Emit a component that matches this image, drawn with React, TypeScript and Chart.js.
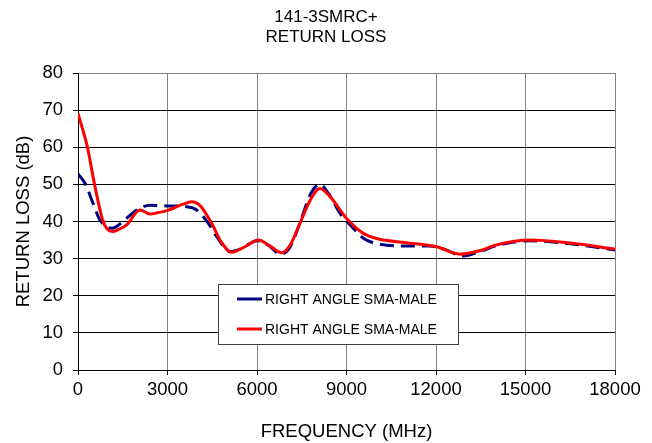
import React, { useEffect, useRef } from "react";
import { Chart, registerables } from "chart.js";

Chart.register(...registerables);

const TITLE_LINES = ["141-3SMRC+", "RETURN LOSS"];
const X_TITLE = "FREQUENCY (MHz)";
const Y_TITLE = "RETURN LOSS (dB)";
const SERIES_LABELS = ["RIGHT ANGLE SMA-MALE", "RIGHT ANGLE SMA-MALE"];

const blueFreq = [0, 235, 500, 737, 1130, 1630, 1967, 2413, 3000, 3640, 3980, 4370, 4650, 5100, 5500, 6000, 6400, 6770, 7100, 7500, 7800, 8110, 8400, 8800, 9120, 9565, 10120, 11240, 11800, 12300, 12900, 13500, 14030, 15150, 16500, 18000];
const blueLoss = [52.8, 50.3, 45, 40.4, 38.2, 40.9, 43.1, 44.4, 44.2, 44, 43.1, 39.5, 35.9, 31.9, 32.8, 34.8, 33.5, 31.2, 33, 41, 47.5, 50, 47.5, 42, 39.1, 35.5, 33.9, 33.4, 33.4, 32.5, 30.7, 32, 33.5, 34.8, 34, 32.3];

const redFreq = [0, 313, 547, 827, 1000, 1180, 1400, 1630, 2078, 2413, 2690, 3000, 3500, 3810, 4100, 4480, 4800, 5150, 5600, 6045, 6450, 6825, 7100, 7440, 7800, 8110, 8450, 9005, 9565, 10120, 11000, 12020, 12800, 13500, 14030, 15150, 16500, 18000];
const redLoss = [69.1, 60.1, 50.3, 40.4, 37.8, 37.3, 38.0, 39.1, 43.1, 42.0, 42.4, 43, 44.6, 45.3, 44.2, 39.5, 34.5, 31.7, 33.2, 35, 33.3, 31.6, 33.5, 39.5, 46, 48.9, 46.7, 40.8, 36.8, 35.2, 34.3, 33.2, 31.2, 32.2, 33.7, 35, 34.2, 32.6];

const X_MIN = 0, X_MAX = 18000, X_STEP = 3000;
const Y_MIN = 0, Y_MAX = 80, Y_STEP = 10;

const FONT = "'Liberation Sans', Arial, sans-serif";

const titlePlugin = {
  id: "twoLineTitle",
  afterDraw(chart: any) {
    const ctx = chart.ctx;
    ctx.save();
    ctx.fillStyle = "#000";
    ctx.font = `17px ${FONT}`;
    ctx.textAlign = "center";
    ctx.textBaseline = "middle";
    const ys = [17, 37.5];
    TITLE_LINES.forEach((t, i) => ctx.fillText(t, 326, ys[i]));
    ctx.restore();
  },
};

const legendPlugin = {
  id: "boxLegend",
  afterDatasetsDraw(chart: any) {
    const ctx = chart.ctx;
    const x0 = 218, y0 = 284, w = 240, h = 60;
    ctx.save();
    ctx.fillStyle = "#ffffff";
    ctx.fillRect(x0, y0, w, h);
    ctx.strokeStyle = "#404040";
    ctx.lineWidth = 1;
    ctx.strokeRect(x0 + 0.5, y0 + 0.5, w, h);
    const rows = [299, 329];
    chart.data.datasets.forEach((ds: any, i: number) => {
      const y = rows[i];
      ctx.strokeStyle = ds.borderColor;
      ctx.lineWidth = 3;
      ctx.setLineDash([]);
      ctx.beginPath();
      ctx.moveTo(237, y);
      ctx.lineTo(262, y);
      ctx.stroke();
      ctx.fillStyle = "#000";
      ctx.font = `14px ${FONT}`;
      ctx.textBaseline = "middle";
      ctx.textAlign = "left";
      ctx.fillText(ds.label, 265, y + 1);
    });
    ctx.restore();
  },
};

export default function App() {
  const ref = useRef<HTMLCanvasElement | null>(null);
  useEffect(() => {
    document.body.style.margin = "0";
    const blue = blueFreq.map((f, i) => ({ x: f, y: blueLoss[i] }));
    const red = redFreq.map((f, i) => ({ x: f, y: redLoss[i] }));
    const chart = new Chart(ref.current as HTMLCanvasElement, {
      type: "line",
      data: {
        datasets: [
          {
            label: SERIES_LABELS[0],
            data: blue,
            borderColor: "#000080",
            borderWidth: 3,
            borderDash: [14, 7],
            pointRadius: 0,
            cubicInterpolationMode: "monotone",
            fill: false,
            order: 1,
          },
          {
            label: SERIES_LABELS[1],
            data: red,
            borderColor: "#ff0000",
            borderWidth: 3,
            pointRadius: 0,
            cubicInterpolationMode: "monotone",
            fill: false,
            order: 0,
          },
        ],
      },
      options: {
        animation: false,
        responsive: false,
        layout: { padding: { left: 0, right: 37, top: 73, bottom: 0 } },
        plugins: {
          legend: { display: false },
          tooltip: { enabled: false },
          title: { display: false },
        },
        scales: {
          x: {
            type: "linear",
            min: X_MIN,
            max: X_MAX,
            ticks: {
              stepSize: X_STEP,
              color: "#000",
              padding: 4,
              maxRotation: 0,
              font: { family: FONT, size: 18.5 },
              callback: (v: any) => String(v),
            },
            grid: {
              color: "#808080",
              tickColor: "#000",
              tickLength: 5,
              lineWidth: 1,
            },
            border: { color: "#000", width: 1 },
            title: {
              display: true,
              text: X_TITLE,
              color: "#000",
              font: { family: FONT, size: 18.5 },
              padding: { top: 0, bottom: 0 },
            },
            afterFit(scale: any) {
              scale.height = 73;
            },
          },
          y: {
            type: "linear",
            min: Y_MIN,
            max: Y_MAX,
            ticks: {
              stepSize: Y_STEP,
              color: "#000",
              padding: 10,
              font: { family: FONT, size: 18.5 },
              callback: (v: any) => String(v),
            },
            grid: {
              color: (c: any) => (c.tick && c.tick.value === Y_MAX ? "#808080" : "#000"),
              tickColor: "#000",
              tickLength: 5,
              lineWidth: 1,
            },
            border: { color: "#000", width: 1 },
            title: {
              display: true,
              text: Y_TITLE,
              color: "#000",
              font: { family: FONT, size: 18.5 },
              padding: { top: 13, bottom: 0 },
            },
            afterFit(scale: any) {
              scale.width = 78;
            },
          },
        },
      },
      plugins: [legendPlugin, titlePlugin],
    } as any);
    return () => chart.destroy();
  }, []);
  return (
    <div style={{ position: "absolute", left: 0, top: 0, width: 652, height: 443, background: "#fff" }}>
      <canvas ref={ref} width={652} height={443} style={{ width: 652, height: 443 }} />
    </div>
  );
}
